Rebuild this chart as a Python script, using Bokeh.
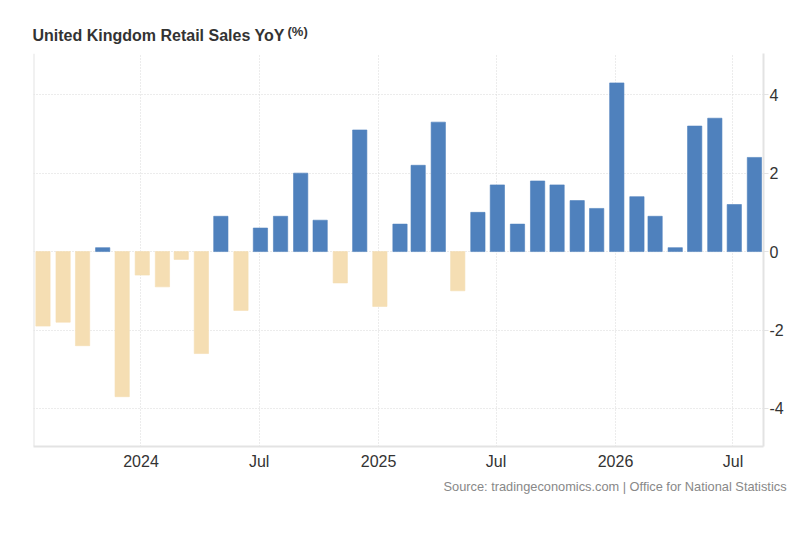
from datetime import datetime, timedelta
from bokeh.embed import file_html
from bokeh.resources import INLINE
from bokeh.models import (Range1d, FixedTicker, Title, ColumnDataSource, CustomJSTickFormatter,
                          Span)
from bokeh.plotting import figure

months = [
    "2023-08", "2023-09", "2023-10", "2023-11", "2023-12",
    "2024-01", "2024-02", "2024-03", "2024-04", "2024-05", "2024-06",
    "2024-07", "2024-08", "2024-09", "2024-10", "2024-11", "2024-12",
    "2025-01", "2025-02", "2025-03", "2025-04", "2025-05", "2025-06",
    "2025-07", "2025-08", "2025-09", "2025-10", "2025-11", "2025-12",
    "2026-01", "2026-02", "2026-03", "2026-04", "2026-05", "2026-06",
    "2026-07", "2026-08",
]
values = [
    -1.9, -1.8, -2.4, 0.1, -3.7,
    -0.6, -0.9, -0.2, -2.6, 0.9, -1.5,
    0.6, 0.9, 2.0, 0.8, -0.8, 3.1,
    -1.4, 0.7, 2.2, 3.3, -1.0, 1.0,
    1.7, 0.7, 1.8, 1.7, 1.3, 1.1,
    4.3, 1.4, 0.9, 0.1, 3.2, 3.4,
    1.2, 2.4,
]
x_tick_dates = ["2024-01-01", "2024-07-01", "2025-01-01", "2025-07-01", "2026-01-01", "2026-07-01"]
x_tick_labels = ["2024", "Jul", "2025", "Jul", "2026", "Jul"]
y_ticks = [-4, -2, 0, 2, 4]
title_text = "United Kingdom Retail Sales YoY"
unit_text = "(%)"
source_text = "Source: tradingeconomics.com | Office for National Statistics"

BLUE = "#4f81bd"
WHEAT = "#f5deb3"
GRID = "#d8d8d8"
AXIS = "#e3e3e3"
TEXT = "#333333"
FONT = "Liberation Sans"
DAY_MS = 86400000.0
Y_LO, Y_HI = -4.97, 5.05


def ms(s):
    return datetime.strptime(s, "%Y-%m-%d").timestamp() * 1000


bar_x = [datetime.strptime(m + "-01", "%Y-%m-%d") + timedelta(days=2) for m in months]
src = ColumnDataSource(dict(
    x=[d.timestamp() * 1000 for d in bar_x],
    top=[max(v, 0) for v in values],
    bottom=[min(v, 0) for v in values],
    color=[BLUE if v >= 0 else WHEAT for v in values],
))

t0 = ms("2024-01-01")
x_lo = t0 - 165.6 * DAY_MS
x_hi = t0 + 959 * DAY_MS
p = figure(
    width=798, height=510, frame_width=730, frame_height=393,
    output_backend="svg", toolbar_location=None,
    x_range=Range1d(x_lo, x_hi),
    y_range=Range1d(Y_LO, Y_HI),
    x_axis_type="datetime", y_axis_location="right",
    min_border_left=33, min_border_right=35, min_border_top=53, min_border_bottom=0,
    background_fill_color="white", border_fill_color="white", outline_line_color=None,
)
p.vbar(x="x", top="top", bottom="bottom", width=22 * DAY_MS, fill_color="color",
       line_color="color", line_alpha=0.6, line_width=1, source=src)

xt = [ms(d) for d in x_tick_dates]
p.xaxis.ticker = FixedTicker(ticks=xt)
mapping = {str(int(t)): l for t, l in zip(xt, x_tick_labels)}
p.xaxis.formatter = CustomJSTickFormatter(args=dict(m=mapping), code="return m[String(Math.round(tick))] ?? ''")
p.yaxis.ticker = FixedTicker(ticks=y_ticks)
p.yaxis.formatter = CustomJSTickFormatter(code="return String(tick)")

for ax in (p.xaxis[0], p.yaxis[0]):
    ax.axis_line_color = AXIS
    ax.axis_line_width = 2
    ax.minor_tick_line_color = None
    ax.major_label_text_color = TEXT
    ax.major_label_text_font = FONT
    ax.major_label_text_font_size = "16px"
p.xaxis.major_tick_line_color = None
p.xaxis.major_tick_out = 0
p.xaxis.major_tick_in = 0
p.xaxis.major_label_standoff = 6
p.yaxis.major_tick_line_color = AXIS
p.yaxis.major_tick_out = 5
p.yaxis.major_tick_in = 0
p.yaxis.major_label_standoff = 1

for g in (p.xgrid[0], p.ygrid[0]):
    g.grid_line_color = GRID
    g.grid_line_dash = [1, 2]
    g.grid_line_width = 1
p.xgrid[0].ticker = FixedTicker(ticks=xt)
p.ygrid[0].ticker = FixedTicker(ticks=y_ticks + [Y_HI])

p.add_layout(Span(location=x_lo, dimension="height", line_color=AXIS, line_width=2))

p.add_layout(Title(text=title_text, align="left", offset=-1, standoff=19, text_font=FONT,
                   text_font_size="16px", text_font_style="bold", text_color=TEXT), "above")
p.add_layout(Title(text=unit_text, align="left", offset=254, standoff=-46, text_font=FONT,
                   text_font_size="13px", text_font_style="bold", text_color=TEXT), "above")
p.add_layout(Title(text=source_text, align="left", offset=410, standoff=8, text_font=FONT,
                   text_font_size="12.8px", text_font_style="normal", text_color="#888888"), "below")

open("out.html", "w").write(file_html(p, INLINE))
